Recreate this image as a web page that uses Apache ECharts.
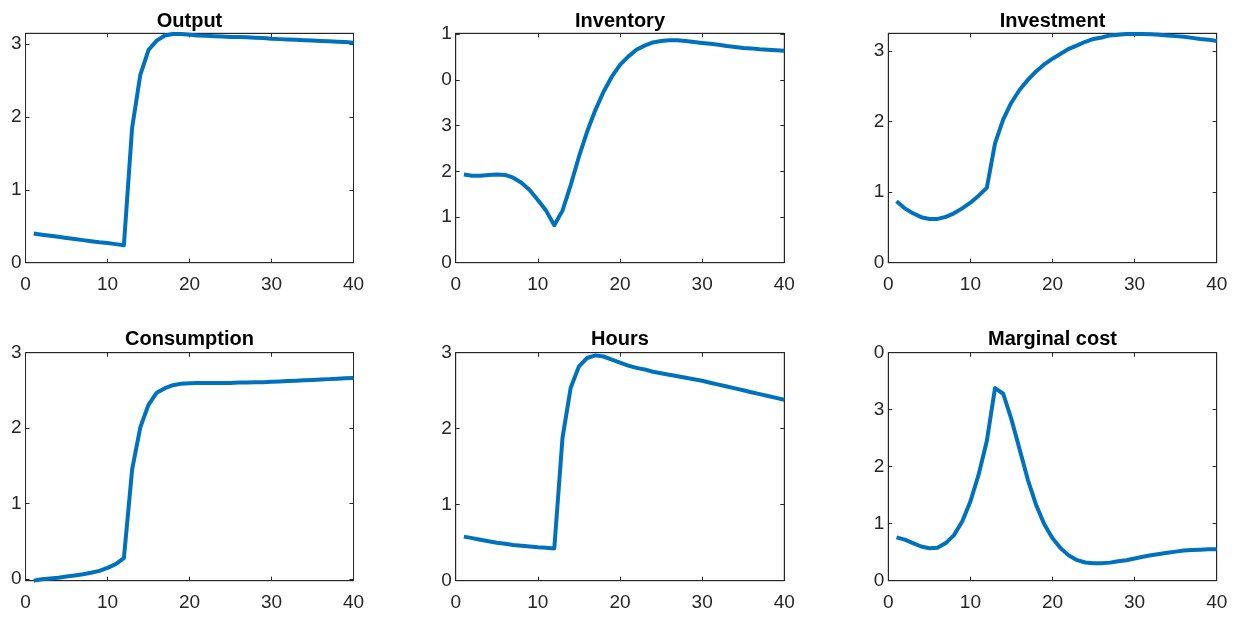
<!DOCTYPE html>
<html><head><meta charset="utf-8">
<script src="https://cdn.jsdelivr.net/npm/echarts@6/dist/echarts.min.js"></script>
<style>html,body{margin:0;padding:0;background:#fff}#c{width:1244px;height:619px}</style>
</head><body><div id="c"></div>
<script>
const periods = Array.from({length: 40}, (_, i) => i + 1);
const titles = ["Output", "Inventory", "Investment", "Consumption", "Hours", "Marginal cost"];
const xTicks = [0, 10, 20, 30, 40];

const output = [0.40,0.385,0.37,0.355,0.34,0.325,0.31,0.295,0.28,0.27,0.255,0.24,
  1.85,2.58,2.92,3.05,3.12,3.14,3.14,3.13,3.12,3.115,3.11,3.105,3.10,3.10,3.095,3.09,3.085,3.075,
  3.07,3.065,3.06,3.055,3.05,3.045,3.04,3.035,3.03,3.02];
const inventory = [1.93,1.905,1.905,1.92,1.93,1.92,1.86,1.75,1.59,1.37,1.14,0.82,
  1.14,1.70,2.32,2.87,3.34,3.74,4.07,4.33,4.51,4.66,4.75,4.82,4.85,4.87,4.87,4.85,4.83,4.81,
  4.79,4.77,4.74,4.72,4.70,4.69,4.67,4.66,4.65,4.64];
const investment = [0.87,0.77,0.70,0.645,0.62,0.62,0.65,0.70,0.77,0.85,0.95,1.06,
  1.69,2.03,2.27,2.45,2.59,2.71,2.81,2.89,2.96,3.03,3.08,3.13,3.17,3.19,3.22,3.23,3.24,3.24,
  3.24,3.235,3.23,3.22,3.21,3.20,3.185,3.17,3.16,3.14];
const consumption = [-0.02,0.0,0.01,0.02,0.035,0.05,0.065,0.085,0.11,0.15,0.20,0.28,
  1.45,2.01,2.31,2.47,2.53,2.57,2.59,2.595,2.60,2.60,2.60,2.60,2.60,2.605,2.605,2.61,2.61,2.615,
  2.62,2.625,2.63,2.635,2.64,2.645,2.65,2.655,2.66,2.665];
const hours = [0.58,0.56,0.54,0.52,0.50,0.485,0.47,0.46,0.45,0.44,0.435,0.425,
  1.88,2.54,2.82,2.93,2.965,2.95,2.91,2.87,2.83,2.80,2.78,2.75,2.73,2.71,2.69,2.67,2.65,2.63,
  2.605,2.58,2.555,2.53,2.505,2.48,2.455,2.43,2.405,2.38];
const marginalCost = [0.76,0.72,0.66,0.60,0.57,0.58,0.66,0.80,1.04,1.39,1.86,2.45,
  3.38,3.28,2.83,2.30,1.77,1.33,0.99,0.745,0.57,0.44,0.36,0.32,0.305,0.305,0.317,0.34,0.36,0.39,
  0.42,0.445,0.47,0.49,0.51,0.53,0.54,0.545,0.55,0.55];

// y tick positions and the (truncated) labels shown in the figure
const yTickVals = [[0,1,2,3],[0,1,2,3,4,5],[0,1,2,3],[0,1,2,3],[0,1,2,3],[0,1,2,3,4]];
const yTickLabels = [["0","1","2","3"],["0","1","2","3","0","1"],["0","1","2","3"],
  ["0","1","2","3"],["0","1","2","3"],["0","1","2","3","0"]];
const yRanges = [[0,3.15],[0,5.02],[0,3.25],[-0.02,3.0],[0,3.0],[0,4.0]];

const seriesData = [output, inventory, investment, consumption, hours, marginalCost];

const grids = [
  {left: 25.5, top: 33.3, width: 328, height: 229.4},
  {left: 455.7, top: 33.3, width: 328.6, height: 229.4},
  {left: 888.3, top: 33.3, width: 328.4, height: 229.4},
  {left: 25.5, top: 352.7, width: 328, height: 228},
  {left: 455.7, top: 352.7, width: 328.6, height: 228},
  {left: 888.3, top: 352.7, width: 328.4, height: 228}
];
const titleTops = [11, 11, 11, 329, 329, 329];

const axisCol = '#262626';
const FONT = 'Liberation Sans, Arial, sans-serif';
const option = {
  animation: false,
  backgroundColor: '#fff',
  title: [], grid: [], xAxis: [], yAxis: [], series: []
};
grids.forEach((g, i) => {
  option.grid.push(Object.assign({show: true, borderColor: axisCol, borderWidth: 1, backgroundColor: '#fff', containLabel: false}, g));
  option.title.push({
    text: titles[i], left: g.left + g.width / 2, top: titleTops[i], textAlign: 'center', padding: 0,
    textStyle: {fontFamily: FONT, fontSize: 20, fontWeight: 'bold', color: '#000'}
  });
  const xBase = {type: 'value', gridIndex: i, min: 0, max: 40, interval: 10,
    axisLine: {show: true, onZero: false, lineStyle: {color: axisCol, width: 1}},
    splitLine: {show: false},
    axisTick: {show: true, inside: true, length: 4, lineStyle: {color: axisCol}}};
  option.xAxis.push(Object.assign({}, xBase, {position: 'bottom',
    axisLabel: {show: true, fontFamily: FONT, fontSize: 19, color: axisCol, margin: 12.5,
      customValues: xTicks, formatter: v => String(v)}}));
  option.xAxis.push(Object.assign({}, xBase, {position: 'top', axisLabel: {show: false}}));
  const yBase = {type: 'value', gridIndex: i, min: yRanges[i][0], max: yRanges[i][1],
    axisLine: {show: true, onZero: false, lineStyle: {color: axisCol, width: 1}},
    splitLine: {show: false},
    axisTick: {show: true, inside: true, length: 4, customValues: yTickVals[i], lineStyle: {color: axisCol}}};
  const labs = yTickLabels[i], vals = yTickVals[i];
  option.yAxis.push(Object.assign({}, yBase, {position: 'left',
    axisLabel: {show: true, fontFamily: FONT, fontSize: 19, color: axisCol, margin: 4,
      customValues: vals,
      formatter: v => { const k = vals.findIndex(t => Math.abs(t - v) < 1e-6); return k >= 0 ? labs[k] : ''; }}}));
  option.yAxis.push(Object.assign({}, yBase, {position: 'right', axisLabel: {show: false}}));
  option.series.push({
    type: 'line', xAxisIndex: 2 * i, yAxisIndex: 2 * i,
    data: periods.map((p, k) => [p, seriesData[i][k]]),
    showSymbol: false, symbol: 'none', clip: true,
    lineStyle: {color: '#0072BD', width: 4, join: 'round'}
  });
});
const chart = echarts.init(document.getElementById('c'), null, {renderer: 'canvas'});
chart.setOption(option);
</script></body></html>
